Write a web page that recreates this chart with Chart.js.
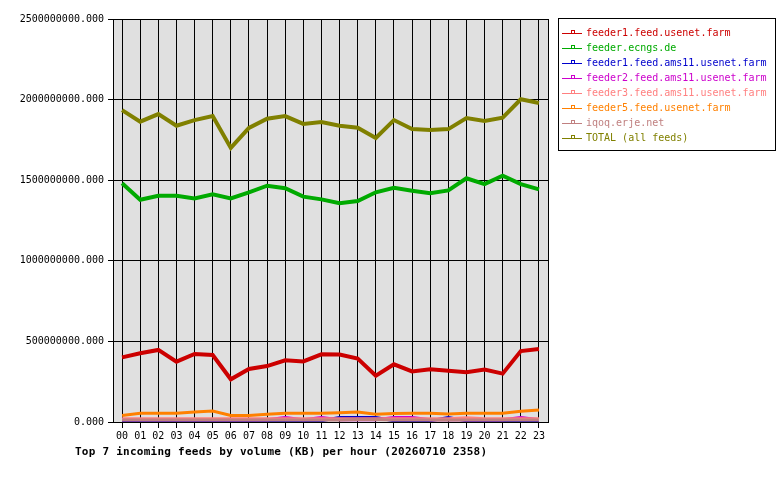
<!DOCTYPE html>
<html>
<head>
<meta charset="utf-8">
<script src="https://cdn.jsdelivr.net/npm/chart.js@4.4.1/dist/chart.umd.min.js"></script>
<style>
  body { margin: 0; background: #fff; }
</style>
</head>
<body>
<canvas id="grafico" width="780" height="480"></canvas>
<script>
// hours on the x axis
const hours = ['00','01','02','03','04','05','06','07','08','09','10','11','12','13','14','15','16','17','18','19','20','21','22','23']

// feed names as in the legend
const feedNames = [
  'feeder1.feed.usenet.farm',
  'feeder.ecngs.de',
  'feeder1.feed.ams11.usenet.farm',
  'feeder2.feed.ams11.usenet.farm',
  'feeder3.feed.ams11.usenet.farm',
  'feeder5.feed.usenet.farm',
  'iqoq.erje.net',
  'TOTAL (all feeds)'
]

// volume per hour (KB)
const feeder1Usenet = [401e6, 426e6, 447e6, 374e6, 422e6, 416e6, 265e6, 329e6, 347e6, 383e6, 376e6, 420e6, 418e6, 393e6, 287e6, 358e6, 314e6, 327e6, 318e6, 308e6, 325e6, 300e6, 440e6, 453e6]
const feederEcngs = [1481e6, 1379e6, 1404e6, 1404e6, 1387e6, 1412e6, 1387e6, 1425e6, 1466e6, 1450e6, 1398e6, 1381e6, 1357e6, 1371e6, 1425e6, 1453e6, 1435e6, 1419e6, 1437e6, 1512e6, 1476e6, 1528e6, 1476e6, 1443e6]
const feeder1Ams11 = [8e6, 8e6, 8e6, 8e6, 8e6, 8e6, 8e6, 8e6, 8e6, 8e6, 8e6, 8e6, 28e6, 28e6, 28e6, 8e6, 8e6, 8e6, 28e6, 8e6, 8e6, 8e6, 8e6, 8e6]
const feeder2Ams11 = [14e6, 14e6, 14e6, 14e6, 14e6, 14e6, 14e6, 14e6, 14e6, 28e6, 14e6, 28e6, 14e6, 14e6, 14e6, 28e6, 28e6, 14e6, 14e6, 14e6, 14e6, 14e6, 28e6, 14e6]
const feeder3Ams11 = [20e6, 20e6, 20e6, 20e6, 20e6, 20e6, 20e6, 20e6, 20e6, 20e6, 20e6, 20e6, 20e6, 20e6, 20e6, 20e6, 20e6, 20e6, 20e6, 26e6, 20e6, 20e6, 20e6, 20e6]
const feeder5Usenet = [41e6, 54e6, 54e6, 54e6, 62e6, 68e6, 41e6, 41e6, 48e6, 54e6, 54e6, 54e6, 58e6, 62e6, 48e6, 52e6, 54e6, 54e6, 49e6, 54e6, 54e6, 54e6, 66e6, 74e6]
const iqoqErje = [12e6, 12e6, 12e6, 12e6, 12e6, 12e6, 12e6, 12e6, 12e6, 12e6, 12e6, 12e6, 12e6, 16e6, 16e6, 12e6, 12e6, 12e6, 12e6, 12e6, 12e6, 12e6, 12e6, 12e6]
const totalFeeds = [1935e6, 1863e6, 1910e6, 1838e6, 1873e6, 1898e6, 1700e6, 1824e6, 1881e6, 1898e6, 1849e6, 1861e6, 1838e6, 1826e6, 1762e6, 1873e6, 1817e6, 1811e6, 1817e6, 1886e6, 1867e6, 1888e6, 2002e6, 1979e6]

const series = [feeder1Usenet, feederEcngs, feeder1Ams11, feeder2Ams11, feeder3Ams11, feeder5Usenet, iqoqErje, totalFeeds]
const colores = ['#cc0000', '#00aa00', '#0000cc', '#cc00cc', '#ff8080', '#ff8000', '#c08080', '#808000']
const grosor = [4, 4, 3, 3, 3, 3, 3, 4]

const FONT = '"DejaVu Sans Mono", "Liberation Mono", monospace'

// gray plot background, right border, legend and title
const fondoPlugin = {
  id: 'fondo',
  beforeDraw(chart) {
    const { ctx, chartArea: a } = chart
    ctx.save()
    ctx.fillStyle = '#e0e0e0'
    ctx.fillRect(a.left, a.top, a.right - a.left, a.bottom - a.top)
    ctx.restore()
  },
  afterDraw(chart) {
    const { ctx, chartArea: a } = chart
    ctx.save()
    ctx.strokeStyle = '#000'
    ctx.lineWidth = 1
    ctx.beginPath()
    ctx.moveTo(Math.round(a.right) + 0.5, a.top)
    ctx.lineTo(Math.round(a.right) + 0.5, a.bottom)
    ctx.stroke()

    // legend box
    ctx.fillStyle = '#fff'
    ctx.fillRect(558.5, 18.5, 217, 132)
    ctx.strokeRect(558.5, 18.5, 217, 132)
    ctx.font = '10px ' + FONT
    ctx.textBaseline = 'middle'
    feedNames.forEach((name, i) => {
      const y = 33.5 + i * 15
      ctx.strokeStyle = colores[i]
      ctx.beginPath()
      ctx.moveTo(562, y)
      ctx.lineTo(582, y)
      ctx.stroke()
      ctx.strokeRect(571.5, y - 3, 3, 3)
      ctx.fillStyle = colores[i]
      ctx.fillText(name, 586, y)
    })

    // title under the chart
    ctx.fillStyle = '#000'
    ctx.font = 'bold 11px ' + FONT
    ctx.letterSpacing = '0.25px'
    ctx.textBaseline = 'alphabetic'
    ctx.fillText('Top 7 incoming feeds by volume (KB) per hour (20260710 2358)', 75, 455)
    ctx.restore()
  }
}

const ctx = document.getElementById('grafico').getContext('2d')
const chart = new Chart(ctx, {
  type: 'line',
  data: {
    labels: hours,
    datasets: series.map((datos, i) => ({
      label: feedNames[i],
      data: datos,
      borderColor: colores[i],
      backgroundColor: colores[i],
      borderWidth: grosor[i],
      pointRadius: 0,
      tension: 0,
      fill: false,
      order: series.length - i
    }))
  },
  options: {
    responsive: false,
    animation: false,
    layout: { padding: { top: 19, right: 232, bottom: 0, left: 0 } },
    plugins: {
      legend: { display: false },
      tooltip: { enabled: false }
    },
    scales: {
      x: {
        offset: true,
        grid: { offset: false, color: '#000', tickLength: 6, lineWidth: 1 },
        border: { color: '#000' },
        ticks: { color: '#000', font: { family: FONT, size: 10 }, padding: 2, maxRotation: 0, autoSkip: false },
        afterFit(scale) { scale.height = 58 }
      },
      y: {
        min: 0,
        max: 2500000000,
        grid: { color: '#000', tickLength: 5, lineWidth: 1 },
        border: { color: '#000' },
        ticks: {
          stepSize: 500000000,
          color: '#000',
          font: { family: FONT, size: 10 },
          padding: 4,
          callback: v => Number(v).toFixed(3)
        },
        afterFit(scale) { scale.width = 113 }
      }
    }
  },
  plugins: [fondoPlugin]
})
</script>
</body>
</html>
